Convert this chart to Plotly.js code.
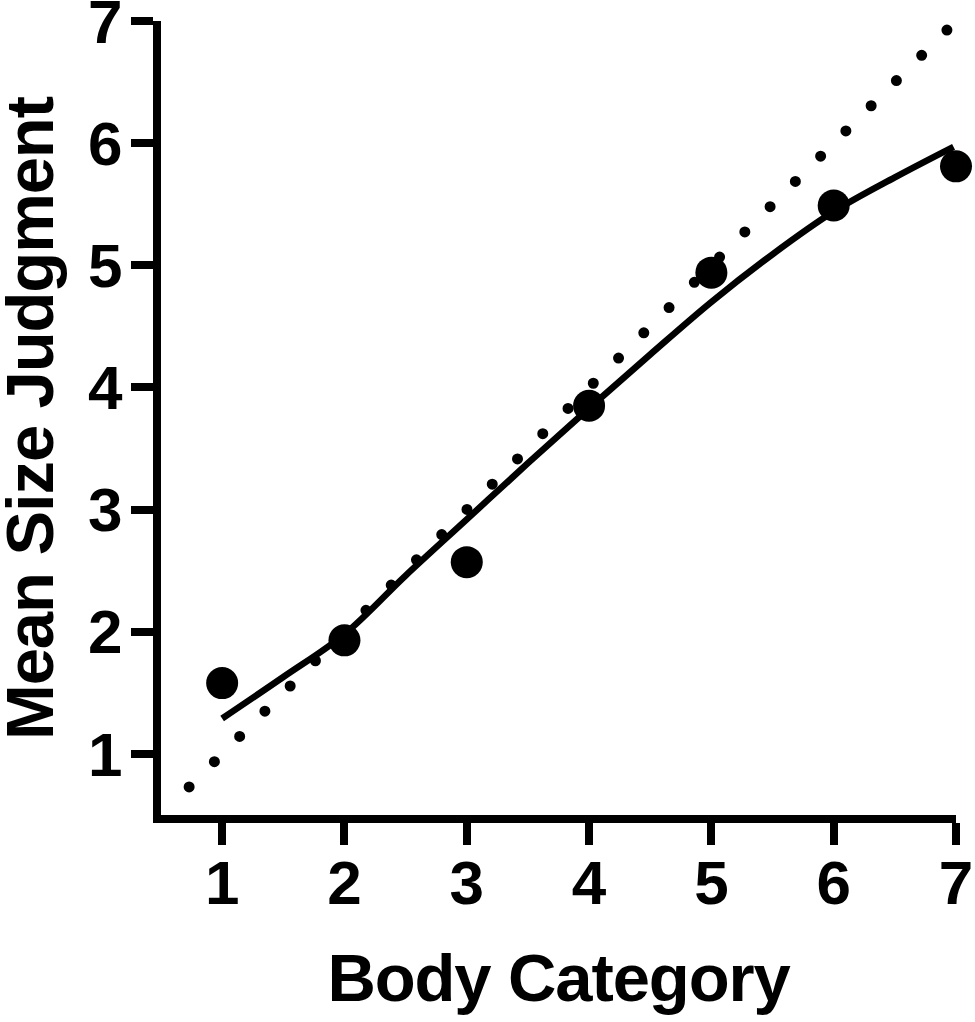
<!DOCTYPE html>
<html>
<head>
<meta charset="utf-8">
<script src="https://cdn.plot.ly/plotly-3.0.1.min.js"></script>
<style>
html,body{margin:0;padding:0;background:#fff;}
#chart{width:975px;height:1022px;}
.scatterlayer .trace:first-child path.js-line{stroke-linecap:round !important;}
.annotation-text, .xtitle{letter-spacing:-1.1px;}
</style>
</head>
<body>
<div id="chart"></div>
<script>
// Observed data
const bodyCategory = [1, 2, 3, 4, 5, 6, 7];
const meanJudgment = [1.58, 1.93, 2.57, 3.85, 4.94, 5.49, 5.81];

// Fitted curve
const fitX = [1, 1.5, 2, 2.5, 3, 3.5, 4, 4.5, 5, 5.5, 6, 6.5, 6.98];
const fitY = [1.29, 1.63, 1.98, 2.46, 2.92, 3.38, 3.83, 4.27, 4.70, 5.09, 5.44, 5.72, 5.97];

// Line of identity (dotted)
const idX = [0.73, 6.93];
const idY = [0.73, 6.93];

// Ticks
const tickVals = [1, 2, 3, 4, 5, 6, 7];
const tickText = ['1', '2', '3', '4', '5', '6', '7'];

const xTitle = 'Body Category';
const yTitle = 'Mean Size Judgment';

const FONT = 'Liberation Sans, Arial, Helvetica, sans-serif';

const traces = [
  {
    x: idX, y: idY, mode: 'lines', type: 'scatter',
    line: {color: '#000', width: 11, dash: '0px,35.7px'},
    cliponaxis: false, hoverinfo: 'skip', showlegend: false
  },
  {
    x: fitX, y: fitY, mode: 'lines', type: 'scatter',
    line: {color: '#000', width: 6.5, shape: 'spline', smoothing: 1},
    cliponaxis: false, hoverinfo: 'skip', showlegend: false
  },
  {
    x: bodyCategory, y: meanJudgment, mode: 'markers', type: 'scatter',
    marker: {color: '#000', size: 32},
    cliponaxis: false, showlegend: false
  }
];

const axisCommon = {
  showgrid: false, zeroline: false,
  showline: true, linecolor: '#000', linewidth: 8,
  ticks: 'outside', ticklen: 22, tickwidth: 8, tickcolor: '#000',
  tickvals: tickVals, ticktext: tickText,
  ticklabeloverflow: 'allow',
  tickfont: {family: FONT, size: 62, color: '#000', weight: 'bold'}
};

const layout = {
  width: 975, height: 1022,
  paper_bgcolor: '#fff', plot_bgcolor: '#fff',
  margin: {l: 161, r: 19, t: 21, b: 207, pad: 0},
  showlegend: false,
  xaxis: Object.assign({}, axisCommon, {
    range: [0.5, 7],
    title: {text: xTitle, standoff: 41,
      font: {family: FONT, size: 67, color: '#000', weight: 'bold'}},
    ticklabelstandoff: -15
  }),
  yaxis: Object.assign({}, axisCommon, {
    range: [0.5, 7],
    ticklabelstandoff: -4
  }),
  annotations: [{
    text: yTitle, xref: 'paper', yref: 'paper', x: 0, y: 0.5,
    xanchor: 'center', yanchor: 'middle', xshift: -132, textangle: -90,
    showarrow: false,
    font: {family: FONT, size: 67, color: '#000', weight: 'bold'}
  }]
};

Plotly.newPlot('chart', traces, layout, {displayModeBar: false, staticPlot: true});
</script>
</body>
</html>
